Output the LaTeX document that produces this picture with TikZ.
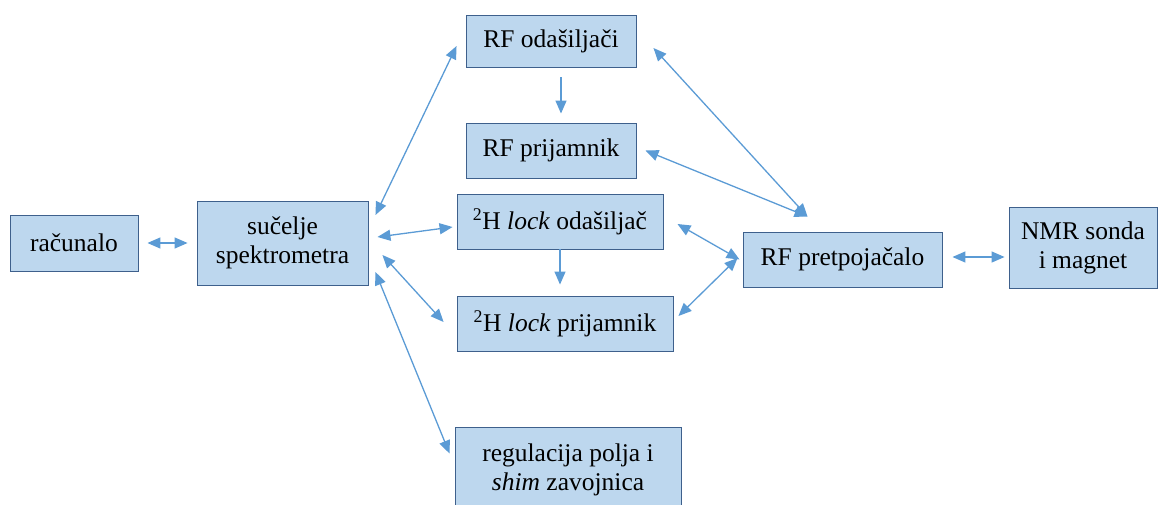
\documentclass[tikz,border=0pt]{standalone}
\usepackage{fontspec}
\setmainfont{Liberation Serif}
\usetikzlibrary{arrows.meta}

\definecolor{boxfill}{RGB}{189,215,238}
\definecolor{boxline}{RGB}{62,96,140}
\definecolor{linkblue}{RGB}{91,155,213}

\begin{document}
\begin{tikzpicture}[x=1pt, y=-1pt, font=\fontsize{25.5}{29}\selectfont]

        % Styles
        \tikzstyle{unit} = [draw=boxline, line width=0.9pt, fill=boxfill, rectangle, align=center, inner sep=2pt]
        \tikzstyle{link} = [<->, draw=linkblue, line width=1.3pt, >={Triangle[length=13pt, width=11pt]}]
        \tikzstyle{flow} = [->, draw=linkblue, line width=1.3pt, >={Triangle[length=13pt, width=11pt]}]

        \useasboundingbox (0,0) rectangle (1158,505);

        % Nodes
        \node [unit, minimum width=128pt, minimum height=56pt] (racunalo) at (74,243) {računalo};
        \node [unit, minimum width=171pt, minimum height=84pt] (sucelje) at (282.5,243) {sučelje\\spektrometra};
        \node [unit, minimum width=170pt, minimum height=52pt] (rfodas) at (551,41) {RF odašiljači};
        \node [unit, minimum width=170pt, minimum height=55pt] (rfprij) at (551,150.5) {RF prijamnik};
        \node [unit, minimum width=206pt, minimum height=55pt] (lockodas) at (560,221.5) {\textsuperscript{2}H \textit{lock} odašiljač};
        \node [unit, minimum width=216pt, minimum height=55pt] (lockprij) at (565,323.5) {\textsuperscript{2}H \textit{lock} prijamnik};
        \node [unit, minimum width=226pt, minimum height=86pt] (regulacija) at (568,470) {regulacija polja i\\\textit{shim} zavojnica};
        \node [unit, minimum width=199pt, minimum height=55pt] (pretpoj) at (842.5,259.5) {RF pretpojačalo};
        \node [unit, minimum width=148pt, minimum height=81pt] (nmr) at (1083,247.5) {NMR sonda\\i magnet};
        \coordinate (join) at ([xshift=-35pt, yshift=15pt]pretpoj.north);

        % Arrows
        \draw[link, shorten <=9pt, shorten >=9pt] (racunalo.east) -- (sucelje.west);
        \draw[link] ([xshift=7pt, yshift=28pt]sucelje.east) -- ([xshift=-9pt, yshift=-5pt]rfodas.west);
        \draw[link] ([xshift=9pt, yshift=6pt]sucelje.east) -- ([xshift=-4pt, yshift=-5.5pt]lockodas.west);
        \draw[link] ([xshift=14pt, yshift=-12pt]sucelje.east) -- ([xshift=-13pt, yshift=1.5pt]lockprij.west);
        \draw[link] ([xshift=7pt, yshift=-29pt]sucelje.east) -- ([xshift=-5pt, yshift=16.5pt]regulacija.west);
        \draw[flow, shorten <=10pt, shorten >=9pt] ([xshift=10pt]rfodas.south) -- ([xshift=10pt]rfprij.north);
        \draw[flow, shorten >=11pt] (lockodas.south) -- (lockodas.south |- lockprij.north);
        \draw[link] ([xshift=17pt, yshift=-7pt]rfodas.east) -- (join);
        \draw[link] ([xshift=9pt]rfprij.east) -- (join);
        \draw[link] ([xshift=14pt, yshift=-2.5pt]lockodas.east) -- ([xshift=-3pt]pretpoj.west);
        \draw[link] ([xshift=5pt, yshift=7.5pt]lockprij.east) -- ([xshift=-5pt, yshift=1.5pt]pretpoj.west);
        \draw[link] ([xshift=10pt, yshift=2.5pt]pretpoj.east) -- ([xshift=-4pt, yshift=-9.5pt]nmr.west);

\end{tikzpicture}
\end{document}
